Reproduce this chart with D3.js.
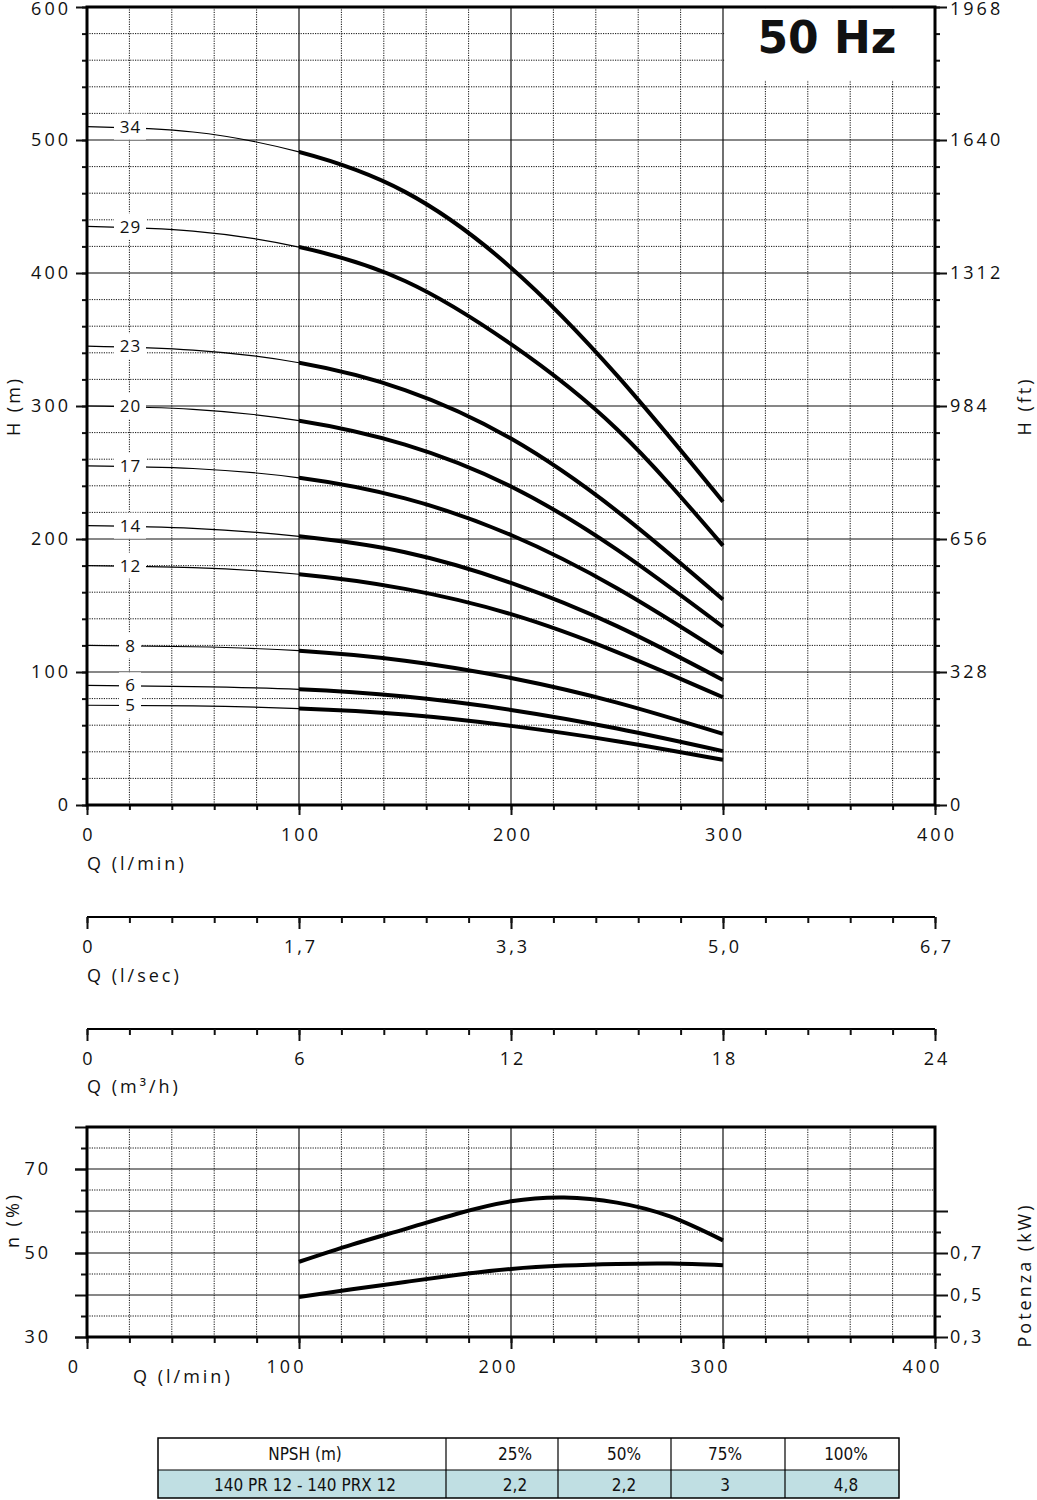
<!DOCTYPE html>
<html><head><meta charset="utf-8">
<script src="https://cdn.jsdelivr.net/npm/d3@7"></script>
<style>
body{margin:0;background:#fff}
svg{display:block}
text{font-family:"Open Sans",sans-serif;fill:#111}
</style></head><body>
<svg id="c" width="1037" height="1500"></svg>
<script>
// ---------- DATA ----------
const stages = [34, 29, 23, 20, 17, 14, 12, 8, 6, 5];
const qHead = [0, 50, 100, 150, 200, 250, 300];
const head34 = [510, 506, 491, 461, 404, 323, 228];
const head29 = [435, 431.5, 419.5, 394, 346.5, 282.5, 195];
const head23 = [345, 342, 332.5, 312, 275.5, 221, 154.5];
const head20 = [300, 297.5, 289, 271, 239.5, 192, 134];
const head17 = [255, 253, 246, 230.5, 203, 163, 114];
const head14 = [210, 208, 202, 190, 167, 134.5, 94];
const head12 = [180, 178.5, 173.5, 162.5, 143.5, 115, 81];
const head8  = [120, 119, 116, 108.5, 95.5, 77, 53.5];
const head6  = [90, 89, 87, 81.5, 71.5, 57.5, 40.5];
const head5  = [75, 74.5, 72.5, 68, 59.5, 48, 34];
const headCurves = [head34, head29, head23, head20, head17, head14, head12, head8, head6, head5];

const qTicks = [0, 100, 200, 300, 400];
const qLabels = ["0", "100", "200", "300", "400"];
const hTicks = [0, 100, 200, 300, 400, 500, 600];
const hLabels = ["0", "100", "200", "300", "400", "500", "600"];
const ftTicks = [0, 328, 656, 984, 1312, 1640, 1968];
const ftLabels = ["0", "328", "656", "984", "1312", "1640", "1968"];
const lsecLabels = ["0", "1,7", "3,3", "5,0", "6,7"];
const m3hLabels = ["0", "6", "12", "18", "24"];

const qEff = [100, 125, 150, 175, 200, 225, 250, 275, 300];
const effValues = [47.9, 52.0, 55.7, 59.4, 62.3, 63.2, 62.0, 58.7, 53.0];
const qPow = [100, 125, 150, 175, 200, 225, 250, 275, 300];
const powValues = [0.49, 0.527, 0.562, 0.596, 0.624, 0.640, 0.648, 0.650, 0.642];
const effTicks = [30, 50, 70];
const effLabels = ["30", "50", "70"];
const powTicks = [0.3, 0.5, 0.7, 0.9];
const powLabels = ["0,3", "0,5", "0,7", ""];

const npshHeader = ["NPSH (m)", "25%", "50%", "75%", "100%"];
const npshRow = ["140 PR 12 - 140 PRX 12", "2,2", "2,2", "3", "4,8"];

// ---------- LAYOUT ----------
const svg = d3.select("#c");
const x = d3.scaleLinear().domain([0, 400]).range([87, 935]);
const yH = d3.scaleLinear().domain([0, 600]).range([805, 7]);
const yFt = d3.scaleLinear().domain([0, 1968]).range([805, 7]);

function styleLine(sel, major) {
  if (major) sel.attr("stroke", "#111").attr("stroke-width", 1.2);
  else sel.attr("stroke", "#111").attr("stroke-width", 1).attr("stroke-dasharray", "1.2,1.2");
}
function cleanAxis(g, fs) {
  g.select(".domain").remove();
  g.attr("font-family", null).attr("font-size", fs || 18);
  g.selectAll(".tick line").attr("stroke", "#111").attr("stroke-width", 2);
  g.selectAll(".tick text").attr("letter-spacing", 3);
}

// ---------- MAIN GRID ----------
const grid = svg.append("g");
grid.selectAll("line.v").data(d3.range(20, 400, 20)).join("line")
  .attr("x1", d => x(d)).attr("x2", d => x(d)).attr("y1", yH(600)).attr("y2", yH(0))
  .each(function (d) { styleLine(d3.select(this), d % 100 === 0); });
grid.selectAll("line.h").data(d3.range(20, 600, 20)).join("line")
  .attr("x1", x(0)).attr("x2", x(400)).attr("y1", d => yH(d)).attr("y2", d => yH(d))
  .each(function (d) { styleLine(d3.select(this), d % 100 === 0); });

// 50 Hz box
svg.append("rect").attr("x", x(300) + 1.5).attr("y", 8.5).attr("width", x(400) - x(300) - 3).attr("height", 72).attr("fill", "#fff");
svg.append("text").attr("x", 827).attr("y", 53).attr("text-anchor", "middle")
  .style("font-family", "'DejaVu Sans',sans-serif").attr("font-weight", "bold").attr("font-size", 44).text("50 Hz");

// ---------- CURVES ----------
const defs = svg.append("defs");
defs.append("clipPath").attr("id", "thin").append("rect").attr("x", 80).attr("y", 0).attr("width", x(100) - 80).attr("height", 820);
defs.append("clipPath").attr("id", "thick").append("rect").attr("x", x(100)).attr("y", 0).attr("width", x(400) - x(100)).attr("height", 820);

const lineH = d3.line().x(d => x(d[0])).y(d => yH(d[1])).curve(d3.curveNatural);
const curves = svg.append("g");
headCurves.forEach((h, i) => {
  const pts = qHead.map((q, j) => [q, h[j]]);
  curves.append("path").attr("d", lineH(pts)).attr("fill", "none").attr("stroke", "#000")
    .attr("stroke-width", 1.2).attr("clip-path", "url(#thin)");
  curves.append("path").attr("d", lineH(pts)).attr("fill", "none").attr("stroke", "#000")
    .attr("stroke-width", 4).attr("clip-path", "url(#thick)");
});
// labels
const lab = svg.append("g");
stages.forEach((s, i) => {
  const cy = yH(headCurves[i][0]);
  const w = String(s).length > 1 ? 32 : 22;
  lab.append("rect").attr("x", 130 - w / 2).attr("y", cy - 13).attr("width", w).attr("height", 26).attr("fill", "#fff");
  lab.append("text").attr("x", 130.5).attr("y", cy).attr("dy", "0.36em").attr("text-anchor", "middle")
    .attr("font-size", 17).attr("letter-spacing", 1).text(s);
});

// ---------- MAIN AXES ----------
svg.append("g").attr("transform", `translate(${x(0)},0)`)
  .call(d3.axisLeft(yH).tickValues(d3.range(0, 601, 20)).tickSize(5).tickFormat(""))
  .call(g => cleanAxis(g));
svg.append("g").attr("transform", `translate(${x(0)},0)`)
  .call(d3.axisLeft(yH).tickValues(hTicks).tickSize(11).tickPadding(5).tickFormat((d, i) => hLabels[i]))
  .call(g => cleanAxis(g))
  .call(g => g.selectAll(".tick text").filter(d => d === 600).attr("dy", "0.42em"));
svg.append("g").attr("transform", `translate(${x(400)},0)`)
  .call(d3.axisRight(yH).tickValues(d3.range(0, 601, 20)).tickSize(5).tickFormat(""))
  .call(g => cleanAxis(g));
svg.append("g").attr("transform", `translate(${x(400)},0)`)
  .call(d3.axisRight(yFt).tickValues(ftTicks).tickSize(12).tickPadding(3).tickFormat((d, i) => ftLabels[i]))
  .call(g => cleanAxis(g))
  .call(g => g.selectAll(".tick text").filter(d => d === 1968).attr("dy", "0.42em"));
svg.append("g").attr("transform", `translate(0,${yH(0)})`)
  .call(d3.axisBottom(x).tickValues(d3.range(0, 401, 20)).tickSize(5).tickFormat(""))
  .call(g => cleanAxis(g));
svg.append("g").attr("transform", `translate(0,${yH(0)})`)
  .call(d3.axisBottom(x).tickValues(qTicks).tickSize(10).tickPadding(13.6).tickFormat((d, i) => qLabels[i]))
  .call(g => cleanAxis(g))
  .call(g => g.selectAll(".tick text").attr("dx", 1.5));
// frame
svg.append("rect").attr("x", x(0)).attr("y", yH(600)).attr("width", x(400) - x(0)).attr("height", yH(0) - yH(600))
  .attr("fill", "none").attr("stroke", "#000").attr("stroke-width", 3);

function title(txt, tx, ty, rot) {
  const t = svg.append("text").attr("font-size", 18).attr("letter-spacing", 3).text(txt);
  if (rot) t.attr("transform", `translate(${tx},${ty}) rotate(-90)`).attr("text-anchor", "middle");
  else t.attr("x", tx).attr("y", ty);
  return t;
}
title("Q (l/min)", 87, 869.5);
title("H (m)", 20, 406, true);
title("H (ft)", 1031, 406, true);

// ---------- SECONDARY Q AXES ----------
function qAxis(yPos, labels, ttl, ttlY) {
  svg.append("line").attr("x1", x(0)).attr("x2", x(400)).attr("y1", yPos).attr("y2", yPos).attr("stroke", "#000").attr("stroke-width", 2);
  svg.append("g").attr("transform", `translate(0,${yPos})`)
    .call(d3.axisBottom(x).tickValues(d3.range(0, 401, 20)).tickSize(6).tickFormat(""))
    .call(g => cleanAxis(g));
  svg.append("g").attr("transform", `translate(0,${yPos})`)
    .call(d3.axisBottom(x).tickValues(qTicks).tickSize(12).tickPadding(11.6).tickFormat((d, i) => labels[i]))
    .call(g => cleanAxis(g))
    .call(g => g.selectAll(".tick text").attr("dx", 1.5));
  title(ttl, 87, ttlY);
}
qAxis(917, lsecLabels, "Q (l/sec)", 982);
qAxis(1029, m3hLabels, "Q (m³/h)", 1093);

// ---------- EFFICIENCY / POWER ----------
const yE = d3.scaleLinear().domain([30, 80]).range([1337, 1127]);
const yP = d3.scaleLinear().domain([0.3, 0.9]).range([yE(30), yE(60)]);
const g2 = svg.append("g");
g2.selectAll("line.v").data(d3.range(20, 400, 20)).join("line")
  .attr("x1", d => x(d)).attr("x2", d => x(d)).attr("y1", yE(80)).attr("y2", yE(30))
  .each(function (d) { styleLine(d3.select(this), d % 100 === 0); });
g2.selectAll("line.h").data(d3.range(35, 80, 5)).join("line")
  .attr("x1", x(0)).attr("x2", x(400)).attr("y1", d => yE(d)).attr("y2", d => yE(d))
  .each(function (d) { styleLine(d3.select(this), d % 10 === 0); });

const lineE = d3.line().x(d => x(d[0])).y(d => yE(d[1])).curve(d3.curveNatural);
const lineP = d3.line().x(d => x(d[0])).y(d => yP(d[1])).curve(d3.curveNatural);
svg.append("path").attr("d", lineE(qEff.map((q, i) => [q, effValues[i]])))
  .attr("fill", "none").attr("stroke", "#000").attr("stroke-width", 4);
svg.append("path").attr("d", lineP(qPow.map((q, i) => [q, powValues[i]])))
  .attr("fill", "none").attr("stroke", "#000").attr("stroke-width", 4);

svg.append("g").attr("transform", `translate(${x(0)},0)`)
  .call(d3.axisLeft(yE).tickValues(d3.range(35, 80, 10)).tickSize(6).tickFormat(""))
  .call(g => cleanAxis(g));
svg.append("g").attr("transform", `translate(${x(0)},0)`)
  .call(d3.axisLeft(yE).tickValues(d3.range(30, 81, 10)).tickSize(12).tickFormat(""))
  .call(g => cleanAxis(g));
svg.append("g").attr("transform", `translate(${x(0)},0)`)
  .call(d3.axisLeft(yE).tickValues(effTicks).tickSize(12).tickPadding(24).tickFormat((d, i) => effLabels[i]))
  .call(g => cleanAxis(g));
svg.append("g").attr("transform", `translate(${x(400)},0)`)
  .call(d3.axisRight(yP).tickValues([0.4, 0.6, 0.8]).tickSize(6).tickFormat(""))
  .call(g => cleanAxis(g));
svg.append("g").attr("transform", `translate(${x(400)},0)`)
  .call(d3.axisRight(yP).tickValues(powTicks).tickSize(13).tickPadding(2).tickFormat((d, i) => powLabels[i]))
  .call(g => cleanAxis(g));
svg.append("g").attr("transform", `translate(0,${yE(30)})`)
  .call(d3.axisBottom(x).tickValues(d3.range(0, 401, 20)).tickSize(6).tickFormat(""))
  .call(g => cleanAxis(g));
svg.append("g").attr("transform", `translate(0,${yE(30)})`)
  .call(d3.axisBottom(x).tickValues(qTicks).tickSize(12).tickPadding(11.6).tickFormat((d, i) => qLabels[i]))
  .call(g => cleanAxis(g))
  .call(g => g.selectAll(".tick text").attr("dx", -13));
svg.append("rect").attr("x", x(0)).attr("y", yE(80)).attr("width", x(400) - x(0)).attr("height", yE(30) - yE(80))
  .attr("fill", "none").attr("stroke", "#000").attr("stroke-width", 3);
title("Q (l/min)", 133, 1383);
title("n (%)", 19, 1220, true);
title("Potenza (kW)", 1031, 1275, true);

// ---------- NPSH TABLE ----------
const colX = [158, 446, 558, 671, 785, 899];
const textX = [305, 515, 624, 725, 846];
const rowY = [1438, 1470, 1498];
const tbl = svg.append("g").style("font-family", "'Liberation Sans Narrow','DejaVu Sans Condensed',sans-serif");
tbl.append("rect").attr("x", colX[0]).attr("y", rowY[1]).attr("width", colX[5] - colX[0]).attr("height", rowY[2] - rowY[1]).attr("fill", "#c0dfe3");
tbl.append("rect").attr("x", colX[0]).attr("y", rowY[0]).attr("width", colX[5] - colX[0]).attr("height", rowY[2] - rowY[0])
  .attr("fill", "none").attr("stroke", "#000").attr("stroke-width", 1.5);
tbl.append("line").attr("x1", colX[0]).attr("x2", colX[5]).attr("y1", rowY[1]).attr("y2", rowY[1]).attr("stroke", "#000").attr("stroke-width", 1.2);
tbl.selectAll("line.c").data(colX.slice(1, 5)).join("line").attr("x1", d => d).attr("x2", d => d)
  .attr("y1", rowY[0]).attr("y2", rowY[2]).attr("stroke", "#000").attr("stroke-width", 1.2);
tbl.selectAll("text.h").data(npshHeader).join("text").attr("x", (d, i) => textX[i]).attr("y", 1460)
  .attr("text-anchor", "middle").attr("font-size", 17).style("font-family", "inherit").text(d => d);
tbl.selectAll("text.r").data(npshRow).join("text").attr("x", (d, i) => textX[i]).attr("y", 1491)
  .attr("text-anchor", "middle").attr("font-size", 17).style("font-family", "inherit").text(d => d);
</script>
</body></html>
